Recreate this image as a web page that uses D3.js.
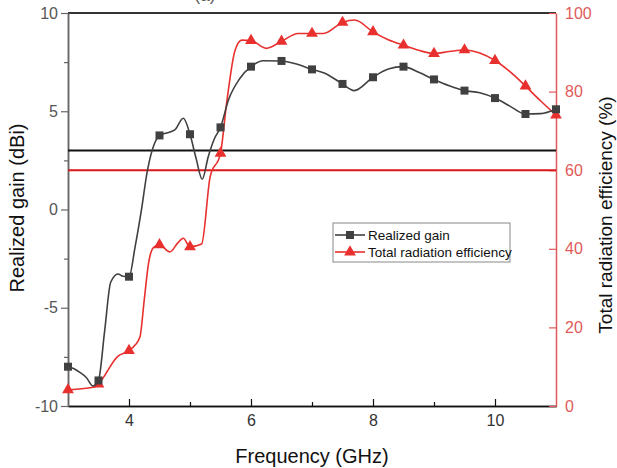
<!DOCTYPE html>
<html>
<head>
<meta charset="UTF-8">
<title>Realized gain and efficiency</title>
<script src="https://cdn.jsdelivr.net/npm/d3@7"></script>
<style>
    body { margin: 0; background: #fff; }
    svg { font-family: "Liberation Sans", Arial, sans-serif; }
</style>
</head>
<body>
<svg id="chart" width="617" height="468"></svg>
<script>
    // realized gain (dBi)
    var gainFreq = [3.0, 3.1, 3.2, 3.3, 3.41, 3.5, 3.6, 3.7, 3.82, 3.9, 4.0, 4.1, 4.2, 4.3, 4.43, 4.5, 4.6, 4.75, 4.89, 5.0,
        5.1, 5.2, 5.3, 5.4, 5.5, 5.63, 5.82, 6.0, 6.2, 6.5, 6.8, 7.0, 7.2, 7.5, 7.69, 8.0, 8.25, 8.5, 8.75, 9.0,
        9.25, 9.5, 9.75, 10.0, 10.25, 10.5, 10.75, 11.0];
    var gainVals = [-8.0, -8.1, -8.3, -8.55, -8.98, -8.7, -6.2, -3.7, -3.28, -3.4, -3.42, -1.9, -0.1, 1.95, 3.45, 3.77, 3.88, 4.05, 4.64, 3.83,
        2.6, 1.54, 2.7, 3.6, 4.18, 5.57, 6.68, 7.27, 7.57, 7.56, 7.35, 7.13, 6.95, 6.39, 6.05, 6.73, 7.15, 7.27, 6.98, 6.62,
        6.3, 6.05, 5.94, 5.67, 5.25, 4.86, 4.88, 5.1];

    // total radiation efficiency (%)
    var effFreq = [3.0, 3.45, 3.5, 3.82, 4.0, 4.1, 4.18, 4.25, 4.32, 4.4, 4.5, 4.67, 4.8, 4.89, 5.0, 5.19, 5.33, 5.5, 5.6, 5.74,
        5.85, 6.0, 6.25, 6.5, 6.77, 7.0, 7.19, 7.5, 7.7, 8.0, 8.25, 8.5, 8.75, 9.0, 9.25, 9.5, 9.75, 10.0, 10.25, 10.5,
        10.75, 11.0];
    var effVals = [4.1, 4.9, 5.6, 12.7, 14.1, 15.5, 17.6, 27, 36.3, 40.3, 41.0, 39.2, 41.5, 42.7, 40.5, 41.2, 58.3, 64.3, 77, 90.6,
        93.1, 93.0, 91.0, 92.8, 94.8, 94.8, 94.8, 97.6, 98.2, 95.2, 93.2, 91.8, 90.5, 89.7, 90.2, 90.6, 89.8, 87.9, 85, 81.4,
        77.6, 74.0];

    var markerFreq = [3, 3.5, 4, 4.5, 5, 5.5, 6, 6.5, 7, 7.5, 8, 8.5, 9, 9.5, 10, 10.5, 11];
    var gainLimit = 3;   // dBi
    var effLimit = 60;   // %

    var xTicks = [4, 6, 8, 10];
    var xMinor = [5, 7, 9];
    var gainTicks = [-10, -5, 0, 5, 10];
    var gainMinor = [-7.5, -2.5, 2.5, 7.5];
    var effTicks = [0, 20, 40, 60, 80, 100];

    var legendLabels = ['Realized gain', 'Total radiation efficiency'];

    var gray = '#404040', red = '#e8302e', redAxis = '#e05a5a';

    var svg = d3.select('#chart');
    var pLeft = 68, pRight = 556, pTop = 13, pBottom = 406;

    var x = d3.scaleLinear().domain([3, 11]).range([pLeft, pRight]);
    var yG = d3.scaleLinear().domain([-10, 10]).range([pBottom, pTop]);
    var yE = d3.scaleLinear().domain([0, 100]).range([pBottom, pTop]);

    var gain = gainFreq.map(function (f, i) { return {f: f, v: gainVals[i]}; });
    var eff = effFreq.map(function (f, i) { return {f: f, v: effVals[i]}; });
    var isMarker = function (d) { return markerFreq.indexOf(d.f) >= 0; };

    // top frame
    svg.append('line')
        .attr('x1', pLeft).attr('x2', pRight).attr('y1', pTop).attr('y2', pTop)
        .attr('stroke', '#333').attr('stroke-width', 2);

    // bottom axis
    var gx = svg.append('g').attr('transform', 'translate(0,' + pBottom + ')');
    gx.call(d3.axisBottom(x).tickValues(xMinor).tickSizeInner(-4).tickSizeOuter(0).tickFormat(''));
    gx.append('g').call(d3.axisBottom(x).tickValues(xTicks).tickSizeInner(-7).tickSizeOuter(0).tickPadding(9));
    gx.selectAll('path').attr('stroke', '#111').attr('stroke-width', 1.5);
    gx.selectAll('line').attr('stroke', '#111').attr('stroke-width', 1.2);
    gx.selectAll('text').attr('font-size', 16).attr('fill', '#333').attr('font-family', null);

    // left axis
    var gy = svg.append('g').attr('transform', 'translate(' + pLeft + ',0)');
    gy.call(d3.axisLeft(yG).tickValues(gainMinor).tickSizeInner(4).tickSizeOuter(0).tickFormat(''));
    gy.append('g').call(d3.axisLeft(yG).tickValues(gainTicks).tickSizeInner(7).tickSizeOuter(0).tickPadding(3)
        .tickFormat(function (d) { return d < 0 ? '-' + Math.abs(d) : d; }));
    gy.selectAll('path').attr('stroke', '#666').attr('stroke-width', 1.5);
    gy.selectAll('line').attr('stroke', '#666').attr('stroke-width', 1.2);
    gy.selectAll('text').attr('font-size', 16).attr('fill', '#555').attr('font-family', null);

    // right axis
    var gr = svg.append('g').attr('transform', 'translate(' + pRight + ',0)');
    gr.call(d3.axisRight(yE).tickValues(effTicks).tickSizeInner(-7).tickSizeOuter(0).tickPadding(9));
    gr.selectAll('path').attr('stroke', redAxis).attr('stroke-width', 1.5);
    gr.selectAll('line').attr('stroke', redAxis).attr('stroke-width', 1.2);
    gr.selectAll('text').attr('font-size', 16).attr('fill', redAxis).attr('font-family', null);

    // reference lines
    svg.append('line')
        .attr('x1', pLeft).attr('x2', pRight).attr('y1', yG(gainLimit)).attr('y2', yG(gainLimit))
        .attr('stroke', '#111').attr('stroke-width', 2);
    svg.append('line')
        .attr('x1', pLeft).attr('x2', pRight).attr('y1', yE(effLimit)).attr('y2', yE(effLimit))
        .attr('stroke', '#d81818').attr('stroke-width', 2);

    // efficiency curve
    var lineE = d3.line().x(function (d) { return x(d.f); }).y(function (d) { return yE(d.v); })
        .curve(d3.curveMonotoneX);
    svg.append('path').datum(eff).attr('d', lineE)
        .attr('fill', 'none').attr('stroke', red).attr('stroke-width', 1.6);
    var tri = d3.symbol().type(d3.symbolTriangle).size(60);
    svg.selectAll('.tri').data(eff.filter(isMarker)).enter().append('path')
        .attr('class', 'tri').attr('d', tri)
        .attr('transform', function (d) { return 'translate(' + x(d.f) + ',' + yE(d.v) + ')'; })
        .attr('fill', red);

    // gain curve
    var lineG = d3.line().x(function (d) { return x(d.f); }).y(function (d) { return yG(d.v); })
        .curve(d3.curveMonotoneX);
    svg.append('path').datum(gain).attr('d', lineG)
        .attr('fill', 'none').attr('stroke', gray).attr('stroke-width', 1.6);
    var sq = d3.symbol().type(d3.symbolSquare).size(64);
    svg.selectAll('.sq').data(gain.filter(isMarker)).enter().append('path')
        .attr('class', 'sq').attr('d', sq)
        .attr('transform', function (d) { return 'translate(' + x(d.f) + ',' + yG(d.v) + ')'; })
        .attr('fill', gray);

    // axis titles
    svg.append('text').attr('x', 312).attr('y', 463).attr('text-anchor', 'middle')
        .attr('font-size', 20).attr('fill', '#111').text('Frequency (GHz)');
    svg.append('text').attr('transform', 'translate(24,208) rotate(-90)').attr('text-anchor', 'middle')
        .attr('font-size', 20).attr('fill', '#111').text('Realized gain (dBi)');
    svg.append('text').attr('transform', 'translate(612,215) rotate(-90)').attr('text-anchor', 'middle')
        .attr('font-size', 19).attr('fill', '#111').text('Total radiation efficiency (%)');

    // title, cut off at the top edge like in the source figure
    svg.append('text').attr('x', 205).attr('y', 1).attr('text-anchor', 'middle')
        .attr('font-size', 17).attr('fill', '#555').text('(a)');

    // legend
    var lg = svg.append('g').attr('transform', 'translate(333,223)');
    lg.append('rect').attr('width', 177).attr('height', 39)
        .attr('fill', '#fff').attr('stroke', '#888').attr('stroke-width', 1);
    var cols = [gray, red];
    var syms = [sq, tri];
    legendLabels.forEach(function (lab, i) {
        var cy = 12 + i * 17;
        lg.append('line').attr('x1', 2).attr('x2', 32).attr('y1', cy).attr('y2', cy)
            .attr('stroke', cols[i]).attr('stroke-width', 1.6);
        lg.append('path').attr('d', syms[i]).attr('transform', 'translate(17,' + cy + ')').attr('fill', cols[i]);
        lg.append('text').attr('x', 35).attr('y', cy + 5).attr('font-size', 13.5).attr('fill', '#111').text(lab);
    });
</script>
</body>
</html>
